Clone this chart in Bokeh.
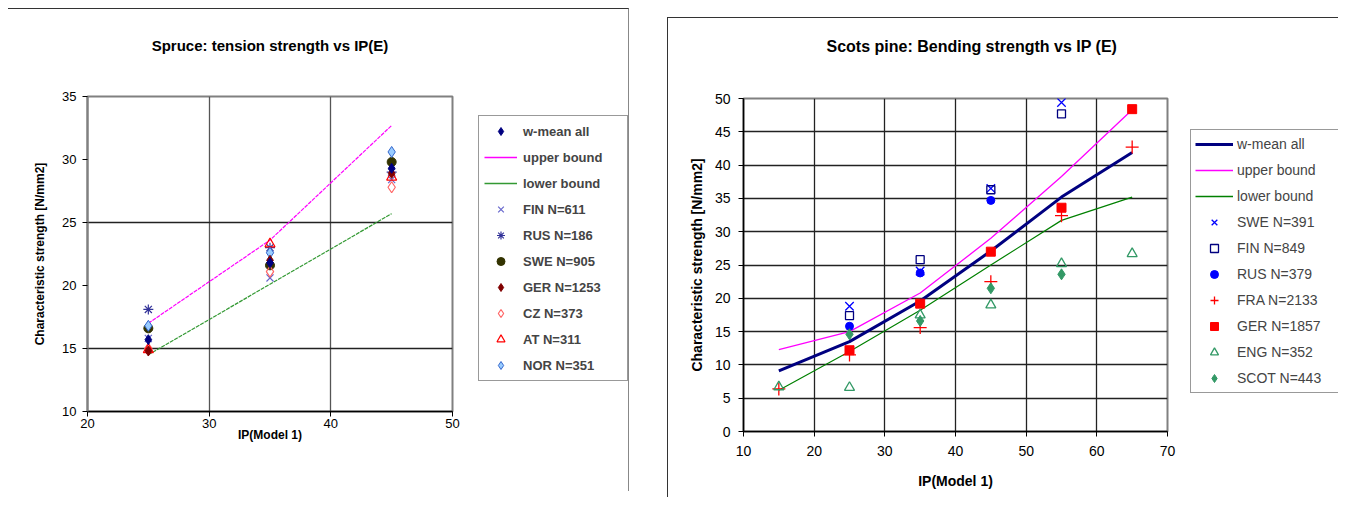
from bokeh.plotting import figure
from bokeh.layouts import row, column
from bokeh.models import Legend, LegendItem, FixedTicker, Spacer, Title
from bokeh.embed import file_html
from bokeh.resources import INLINE

NAN = float("nan")

# ---------------- Left chart data (Spruce: tension) ----------------
ip_left = [25, 35, 45]
wmean_left = [15.7, 21.8, 29.3]
upper_left = [17.0, 23.6, 32.7]
lower_left = [14.5, 20.1, 25.7]
fin_left = [15.8, 20.6, 28.4]
rus_left = [18.1, 23.0, 29.0]
swe_left = [16.6, 21.6, 29.8]
ger_left = [14.8, 22.0, 28.9]
cz_left = [15.0, 21.1, 27.8]
at_left = [14.9, 23.3, 28.6]
nor_left = [16.8, 22.6, 30.6]
xticks_left = [20, 30, 40, 50]
yticks_left = [10, 15, 20, 25, 30, 35]

# ---------------- Right chart data (Scots pine: bending) ----------------
ip_right = [15, 25, 35, 45, 55, 65]
wmean_right = [9.1, 13.5, 19.6, 27.1, 35.2, 41.9]
upper_right = [12.3, 15.0, 20.8, 29.0, 38.3, 48.3]
lower_right = [6.2, 12.0, 18.2, 25.0, 31.7, 35.2]
swe_ip = [25, 35, 45, 55]
swe_right = [18.8, 24.1, 36.5, 49.4]
fin_ip = [25, 35, 45, 55]
fin_right = [17.4, 25.8, 36.3, 47.7]
rus_ip = [25, 35, 45]
rus_right = [15.8, 23.8, 34.7]
fra_ip = [15, 25, 35, 45, 55, 65]
fra_right = [6.4, 11.5, 15.6, 22.5, 32.4, 42.7]
ger_ip = [25, 35, 45, 55, 65]
ger_right = [12.2, 19.2, 27.0, 33.6, 48.4]
eng_ip = [15, 25, 35, 45, 55, 65]
eng_right = [6.7, 6.6, 17.5, 19.0, 25.2, 26.7]
scot_ip = [25, 35, 45, 55]
scot_right = [14.6, 16.6, 21.5, 23.6]
xticks_right = [10, 20, 30, 40, 50, 60, 70]
yticks_right = [0, 5, 10, 15, 20, 25, 30, 35, 40, 45, 50]

FONT = "Liberation Sans"

left_series = [
    ("upper bound", "line", upper_left, dict(line_color="#ff00ff", line_width=1.2, line_dash="4 1")),
    ("lower bound", "line", lower_left, dict(line_color="#339933", line_width=1.2, line_dash="4 1")),
    ("FIN N=611", "scatter", fin_left, dict(marker="x", size=10, line_color="#6666cc", line_width=1.2)),
    ("RUS N=186", "scatter", rus_left, dict(marker="asterisk", size=10, line_color="#333399", line_width=1.2)),
    ("SWE N=905", "scatter", swe_left, dict(marker="circle", size=9, fill_color="#333300", line_color="#333300")),
    ("CZ N=373", "scatter", cz_left, dict(marker="diamond", size=11, fill_color=None, line_color="#ff6666", line_width=1.2)),
    ("AT N=311", "scatter", at_left, dict(marker="triangle", size=10, fill_color=None, line_color="#ff0000", line_width=1.2)),
    ("NOR N=351", "scatter", nor_left, dict(marker="diamond", size=11, fill_color="#99ccff", line_color="#3366cc", line_width=1)),
    ("GER N=1253", "scatter", ger_left, dict(marker="diamond", size=10, fill_color="#800000", line_color="#800000")),
    ("w-mean all", "scatter", wmean_left, dict(marker="diamond", size=10, fill_color="#000080", line_color="#000080")),
]
left_legend_order = ["w-mean all", "upper bound", "lower bound", "FIN N=611", "RUS N=186",
                     "SWE N=905", "GER N=1253", "CZ N=373", "AT N=311", "NOR N=351"]

right_series = [
    ("w-mean all", "line", ip_right, wmean_right, dict(line_color="#000080", line_width=3)),
    ("upper bound", "line", ip_right, upper_right, dict(line_color="#ff00ff", line_width=1.3)),
    ("lower bound", "line", ip_right, lower_right, dict(line_color="#008000", line_width=1.2)),
    ("SWE N=391", "scatter", swe_ip, swe_right, dict(marker="x", size=12, line_color="#0000ff", line_width=1.3)),
    ("FIN N=849", "scatter", fin_ip, fin_right, dict(marker="square", size=8, fill_color=None, line_color="#000080", line_width=1.3)),
    ("RUS N=379", "scatter", rus_ip, rus_right, dict(marker="circle", size=8, fill_color="#0000ff", line_color="#0000ff")),
    ("FRA N=2133", "scatter", fra_ip, fra_right, dict(marker="cross", size=13, line_color="#ff0000", line_width=1.3)),
    ("GER N=1857", "scatter", ger_ip, ger_right, dict(marker="square", size=9, fill_color="#ff0000", line_color="#ff0000")),
    ("ENG N=352", "scatter", eng_ip, eng_right, dict(marker="triangle", size=10, fill_color=None, line_color="#339966", line_width=1.3)),
    ("SCOT N=443", "scatter", scot_ip, scot_right, dict(marker="diamond", size=11, fill_color="#339966", line_color="#339966")),
]


def style_axes(p, xt, yt, xg, yg, label_size, tick_size):
    p.xaxis.ticker = FixedTicker(ticks=xt)
    p.yaxis.ticker = FixedTicker(ticks=yt)
    p.xgrid.ticker = FixedTicker(ticks=xg)
    p.ygrid.ticker = FixedTicker(ticks=yg)
    for g in (p.xgrid, p.ygrid):
        g.grid_line_color = "#222222"
        g.grid_line_width = 1.3
    for ax in (p.xaxis, p.yaxis):
        ax.axis_label_text_font = FONT
        ax.axis_label_text_font_style = "bold"
        ax.axis_label_text_font_size = label_size
        ax.major_label_text_font = FONT
        ax.major_label_text_font_size = tick_size
        ax.major_label_text_color = "black"
        ax.axis_label_text_color = "black"
        ax.major_tick_out = 5
        ax.major_tick_in = 0
        ax.minor_tick_out = 0
        ax.minor_tick_in = 0
        ax.major_tick_line_color = "black"
        ax.axis_line_color = "black"
        ax.axis_line_width = 1.5
    p.outline_line_color = "#808080"
    p.outline_line_width = 2


def add_title(p, text, size, gap, align, offset):
    # spacer title (closest to the frame) then the real title above it
    p.add_layout(Title(text=" ", text_font_size="10px", standoff=gap), "above")
    p.add_layout(Title(text=text, align=align, offset=offset, standoff=0,
                       text_font=FONT, text_font_size=size, text_font_style="bold",
                       text_color="black"), "above")


def legend_figure(width, height, top, bottom, entries, loc, bold, font_size,
                  glyph_width, label_width, padding, standoff):
    """A separate axis-less figure holding only the legend."""
    q = figure(width=width, height=height, output_backend="svg", toolbar_location=None,
               min_border_left=0, min_border_right=0, min_border_top=top,
               min_border_bottom=bottom, x_range=(0, 1), y_range=(0, 1))
    q.axis.visible = False
    q.grid.visible = False
    q.outline_line_color = None
    items = []
    for name, kind, kw in entries:
        if kind == "line":
            kw = {k: v for k, v in kw.items() if k != "line_dash"}
            kw["line_width"] = max(kw.get("line_width", 1), 1.6)
            r = q.line([NAN, NAN], [NAN, NAN], **kw)
        else:
            r = q.scatter([NAN], [NAN], **kw)
        items.append(LegendItem(label=name, renderers=[r]))
    leg = Legend(items=items, location=loc, margin=0, padding=padding, spacing=6,
                 glyph_width=glyph_width, glyph_height=20, label_height=20,
                 label_width=label_width, label_standoff=standoff,
                 label_text_font=FONT, label_text_font_style="bold" if bold else "normal",
                 label_text_font_size=font_size, border_line_color="#333333",
                 border_line_width=1)
    q.add_layout(leg)
    return q


# ---------------- Left figure ----------------
p1 = figure(width=454, height=482, x_range=(20, 50), y_range=(10, 35), title=None,
            output_backend="svg", toolbar_location=None,
            min_border_left=79, min_border_right=10, min_border_top=87,
            min_border_bottom=80)
add_title(p1, "Spruce: tension strength vs IP(E)", "15px", 30, "center", 0)
p1.xaxis.axis_label = "IP(Model 1)"
p1.yaxis.axis_label = "Characteristic strength [N/mm2]"
style_axes(p1, xticks_left, yticks_left, [30, 40], [15, 25], "12px", "13px")
p1.xgrid.grid_line_color = "#555555"
p1.yaxis.axis_line_color = "#808080"
p1.yaxis.axis_line_width = 2
p1.xaxis.axis_label_standoff = -3
p1.xaxis.major_label_standoff = 2
p1.yaxis.major_label_standoff = 6
p1.yaxis.axis_label_standoff = 12

left_styles = {}
for name, kind, ys, kw in left_series:
    left_styles[name] = (kind, kw)
    if kind == "line":
        p1.line(ip_left, ys, **kw)
    else:
        p1.scatter(ip_left, ys, **kw)

p1L = legend_figure(166, 482, 87, 80, [(n,) + left_styles[n] for n in left_legend_order],
                    (16, 30), True, "13px", 33, 99, 5, 6)

# ---------------- Right figure ----------------
p2 = figure(width=519, height=479, x_range=(10, 70), y_range=(0, 50), title=None,
            output_backend="svg", toolbar_location=None,
            min_border_left=75, min_border_right=20, min_border_top=80,
            min_border_bottom=66)
add_title(p2, "Scots pine: Bending strength vs IP (E)", "16px", 31, "left", 83)
p2.xaxis.axis_label = "IP(Model 1)"
p2.yaxis.axis_label = "Characteristic strength [N/mm2]"
style_axes(p2, xticks_right, yticks_right, [20, 30, 40, 50, 60],
           [5, 10, 15, 20, 25, 30, 35, 40, 45], "14px", "14px")
p2.xaxis.major_label_standoff = 9
p2.xaxis.axis_label_standoff = 14
p2.yaxis.major_label_standoff = 8
p2.yaxis.axis_label_standoff = 7

for name, kind, xs, ys, kw in right_series:
    if kind == "line":
        p2.line(xs, ys, **kw)
    else:
        p2.scatter(xs, ys, **kw)

p2L = legend_figure(151, 479, 80, 66, [(n, k, kw) for n, k, _, _, kw in right_series],
                    (3, 38), False, "14px", 38, 98, 4, 4)

left_chart = row(p1, p1L, styles={"border-top": "1px solid #333", "border-right": "1px solid #888"})
right_chart = row(p2, p2L, styles={"border-top": "1px solid #333", "border-left": "1px solid #333"})

layout = column(Spacer(height=8),
                row(Spacer(width=8), left_chart, Spacer(width=38),
                    column(Spacer(height=9), right_chart)))

open("out.html", "w").write(file_html(layout, INLINE))
